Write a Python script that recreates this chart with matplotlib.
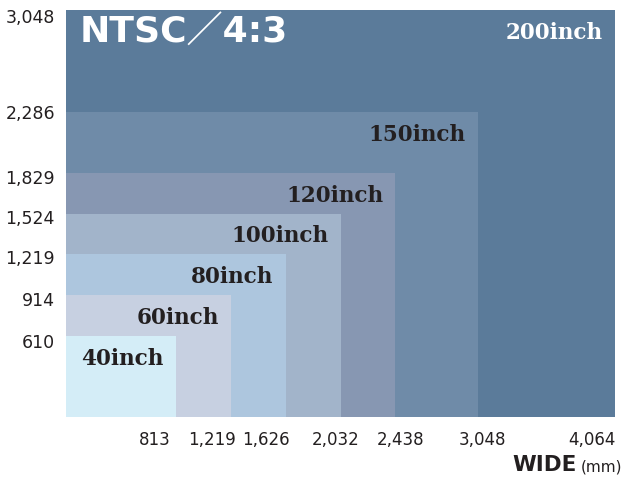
import matplotlib
matplotlib.use("Agg")
import matplotlib.pyplot as plt
import matplotlib.transforms as mtransforms

# ---- data ----
sizes = ["40inch", "60inch", "80inch", "100inch", "120inch", "150inch", "200inch"]
widths = [813, 1219, 1626, 2032, 2438, 3048, 4064]
heights = [610, 914, 1219, 1524, 1829, 2286, 3048]
x_ticklabels = ["813", "1,219", "1,626", "2,032", "2,438", "3,048", "4,064"]
y_ticklabels = ["610", "914", "1,219", "1,524", "1,829", "2,286", "3,048"]
title = "NTSC／4:3"

colors = ["#D4EDF7", "#C7D0E1", "#ADC6DE", "#A2B4CA", "#8797B2", "#6F8BA8", "#5B7B9A"]
label_colors = ["#231F20"] * 6 + ["#FFFFFF"]

W, H, DPI = 623, 479, 100
fig = plt.figure(figsize=(W / DPI, H / DPI), dpi=DPI)
L, R, T, B = 66, 615, 10, 417
ax = fig.add_axes([L / W, 1 - B / H, (R - L) / W, (B - T) / H])

# bars from largest to smallest
for i in range(len(widths) - 1, -1, -1):
    ax.bar(0, heights[i], width=widths[i], align="edge", color=colors[i],
           edgecolor="none", linewidth=0, zorder=2)

ax.set_xlim(0, 4064)
ax.set_ylim(0, 3048)
for s in ax.spines.values():
    s.set_visible(False)

# labels inside rectangles
for i, lab in enumerate(sizes):
    ax.annotate(lab, xy=(widths[i], heights[i]), xytext=(-12, -29),
                textcoords="offset pixels", ha="right", va="baseline",
                fontsize=15.5, fontweight="bold", family="DejaVu Serif",
                color=label_colors[i], zorder=5)

# title
ax.annotate(title, xy=(0, 3048), xytext=(14, -33), textcoords="offset pixels",
            ha="left", va="baseline", fontsize=26, fontweight="bold",
            family=["DejaVu Sans", "Noto Sans CJK JP"], color="white", zorder=6)

# ticks
ax.set_xticks(widths)
ax.set_xticklabels(x_ticklabels, fontsize=12, family="DejaVu Sans", color="#231F20")
ax.set_yticks(heights)
ax.set_yticklabels(y_ticklabels, fontsize=12.5, family="DejaVu Sans", color="#231F20")
ax.tick_params(axis="both", length=0)
ax.tick_params(axis="x", pad=10)
ax.tick_params(axis="y", pad=8)

x_dx = [-21, -19, -20, -5, 5, 5, -23]
for lbl, dx in zip(ax.get_xticklabels(), x_dx):
    lbl.set_transform(lbl.get_transform() +
                      mtransforms.ScaledTranslation(dx / DPI, 0, fig.dpi_scale_trans))
y_dy = [-5, -4, -3, -3, -4, 0, -6]
for lbl, dy in zip(ax.get_yticklabels(), y_dy):
    lbl.set_transform(lbl.get_transform() +
                      mtransforms.ScaledTranslation(0, dy / DPI, fig.dpi_scale_trans))

# axis title
fig.text(622 / W, 1 - 471 / H, "(mm)", ha="right", va="baseline",
         fontsize=11, family="DejaVu Sans", color="#231F20")
fig.text(577 / W, 1 - 471 / H, "WIDE", ha="right", va="baseline",
         fontsize=15.5, fontweight="bold", family="DejaVu Sans", color="#231F20")

fig.savefig("out.png", dpi=DPI)
